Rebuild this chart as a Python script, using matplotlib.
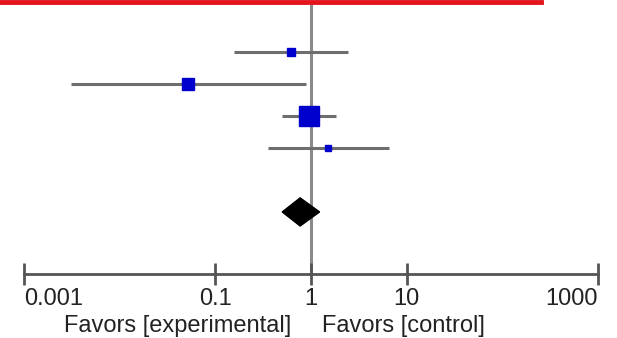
import matplotlib
matplotlib.use("Agg")
import matplotlib.pyplot as plt
import numpy as np
from matplotlib.patches import Polygon
from matplotlib.lines import Line2D

# study estimates (odds ratios) and 95% CI
study_or = [0.62, 0.052, 0.95, 1.51]
study_lo = [0.157, 0.0031, 0.50, 0.356]
study_hi = [2.44, 0.89, 1.82, 6.5]
study_weight = [10.5, 23.5, 59.5, 6.5]

# pooled estimate
pooled_or = 0.77
pooled_lo = 0.50
pooled_hi = 1.23

tick_values = [0.001, 0.1, 1, 10, 1000]
tick_labels = ["0.001", "0.1", "1", "10", "1000"]

plt.rcParams["font.family"] = ["Liberation Sans", "DejaVu Sans"]

W, H = 617, 338
fig = plt.figure(figsize=(W / 100, H / 100), dpi=100)
ax = fig.add_axes([24 / W, (H - 274) / H, (598 - 24) / W, 274 / H])
ax.set_xscale("log")
ax.set_xlim(0.001, 1000)
ax.set_ylim(7.94, -0.625)

# line of no effect
ax.plot([1, 1], [-0.5, 7.94], color="#8a8a8a", lw=2.2, zorder=1, solid_capstyle="butt")

rows = np.arange(1, len(study_or) + 1)
for r, o, lo, hi, w in zip(rows, study_or, study_lo, study_hi, study_weight):
    ax.plot([lo, hi], [r, r], color="#6e6e6e", lw=2.2, zorder=2, solid_capstyle="butt")
    side = np.sqrt(w) * 2.47 * 0.72
    ax.plot(o, r, marker="s", ms=side, color="#0000cc", mec="#0000cc", zorder=3)

# pooled diamond
dy = 6
hh = 0.44
diamond = Polygon([(pooled_lo, dy), (pooled_or, dy - hh), (pooled_hi, dy), (pooled_or, dy + hh)],
                  closed=True, facecolor="black", edgecolor="black", zorder=4)
ax.add_patch(diamond)

for s in ["top", "left", "right"]:
    ax.spines[s].set_visible(False)
ax.spines["bottom"].set_color("#555555")
ax.spines["bottom"].set_linewidth(2)
ax.set_yticks([])
ax.set_xticks(tick_values)
ax.set_xticklabels(tick_labels)
ax.minorticks_off()
ax.tick_params(axis="x", direction="inout", length=16, width=2, color="#555555",
               labelsize=17, labelcolor="#222222", pad=2)
labels = ax.get_xticklabels()
labels[0].set_ha("left")
labels[-1].set_ha("right")

fig.text(291 / W, (H - 332) / H, "Favors [experimental]", ha="right", va="baseline",
         fontsize=17, color="#222222")
fig.text(322 / W, (H - 332) / H, "Favors [control]", ha="left", va="baseline",
         fontsize=17, color="#222222")

# red rule at the top
fig.add_artist(Line2D([0, 541 / W], [(H - 1.8) / H, (H - 1.8) / H], color="#e3141c", lw=3.5,
                      transform=fig.transFigure))

fig.savefig("out.png", dpi=100)
